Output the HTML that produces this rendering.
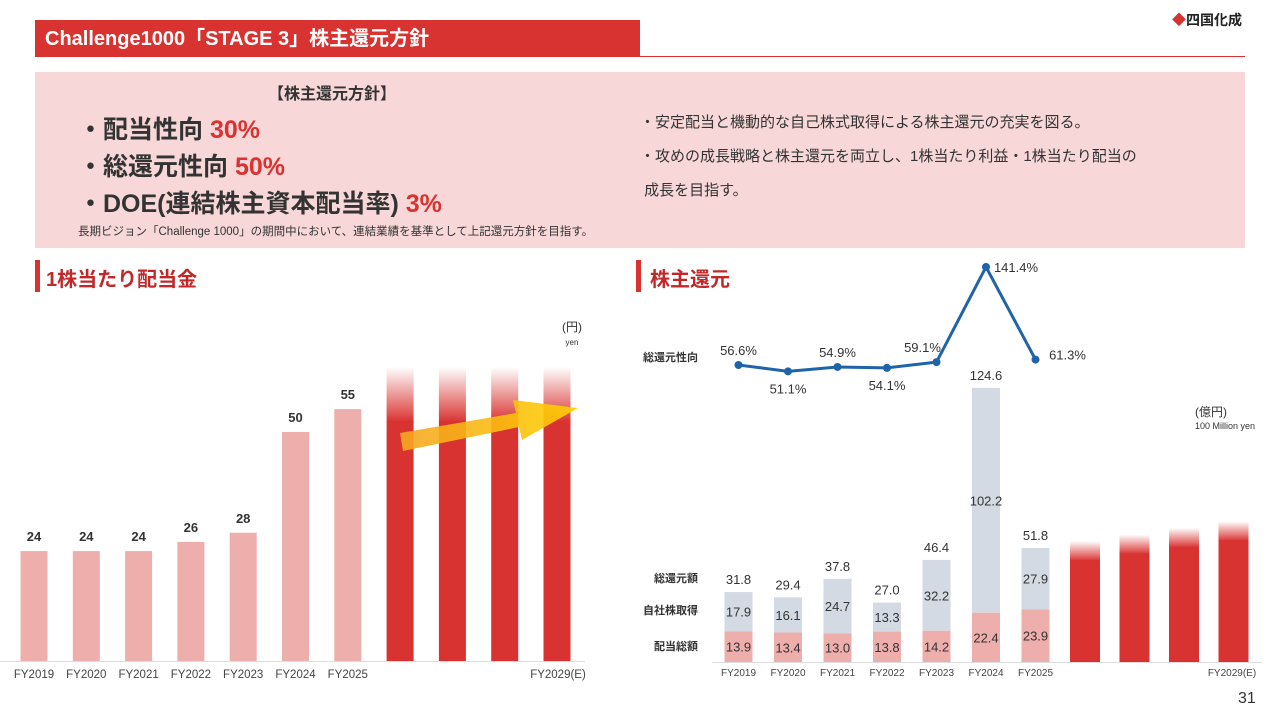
<!DOCTYPE html>
<html><head><meta charset="utf-8">
<style>
body{margin:0;width:1280px;height:720px;background:#fff;font-family:"Liberation Sans","Noto Sans CJK JP",sans-serif;position:relative;overflow:hidden}
.abs{position:absolute}
</style></head>
<body>
<div class="abs" style="left:35px;top:20px;width:605px;height:37px;background:#d93331;color:#fff;font-size:20px;font-weight:bold;line-height:38px;padding-left:10px;box-sizing:border-box">Challenge1000「STAGE 3」株主還元方針</div>
<div class="abs" style="left:640px;top:56px;width:605px;height:1px;background:#d93331"></div>
<div class="abs" style="left:1172px;top:10px;font-size:14px;font-weight:bold;color:#222"><span style="color:#d93331">◆</span>四国化成</div>
<div class="abs" style="left:35px;top:72px;width:1210px;height:176px;background:#f7d7d7"></div>
<div class="abs" style="left:268px;top:80px;font-size:16px;font-weight:bold;color:#333">【株主還元方針】</div>
<div class="abs" style="left:78px;top:112px;font-size:25px;font-weight:bold;color:#333;line-height:37px">
<div>・配当性向 <span style="color:#d93331">30%</span></div>
<div>・総還元性向 <span style="color:#d93331">50%</span></div>
<div>・DOE(連結株主資本配当率) <span style="color:#d93331">3%</span></div></div>
<div class="abs" style="left:78px;top:223px;font-size:11.5px;color:#333">長期ビジョン「Challenge 1000」の期間中において、連結業績を基準として上記還元方針を目指す。</div>
<div class="abs" style="left:640px;top:106px;font-size:15px;color:#333;line-height:34px">
<div>・安定配当と機動的な自己株式取得による株主還元の充実を図る。</div>
<div>・攻めの成長戦略と株主還元を両立し、1株当たり利益・1株当たり配当の</div>
<div>&nbsp;成長を目指す。</div></div>
<div class="abs" style="left:35px;top:260px;width:5px;height:32px;background:#d93331"></div>
<div class="abs" style="left:46px;top:263px;font-size:20px;font-weight:bold;color:#c0282a">1株当たり配当金</div>
<div class="abs" style="left:636px;top:260px;width:5px;height:32px;background:#d93331"></div>
<div class="abs" style="left:650px;top:263px;font-size:20px;font-weight:bold;color:#c0282a">株主還元</div>
<div class="abs" style="left:1238px;top:690px;font-size:16px;color:#333">31</div>

<svg id="c" class="abs" style="left:0;top:0" width="1280" height="720">
<defs>
<linearGradient id="fade" x1="0" y1="0" x2="0" y2="1"><stop offset="0" stop-color="#d93331" stop-opacity="0"/><stop offset="1" stop-color="#d93331"/></linearGradient>
<linearGradient id="arrowg" x1="0" y1="0" x2="1" y2="0"><stop offset="0" stop-color="#f5a623"/><stop offset="1" stop-color="#ffd000"/></linearGradient>
</defs>
</svg>
<script>
const dpsCats=['FY2019','FY2020','FY2021','FY2022','FY2023','FY2024','FY2025','','','','FY2029(E)'];
const dpsValues=[24,24,24,26,28,50,55];
const dpsFutureCount=4;
const srCats=['FY2019','FY2020','FY2021','FY2022','FY2023','FY2024','FY2025','','','','FY2029(E)'];
const srDividend=[13.9,13.4,13.0,13.8,14.2,22.4,23.9];
const srBuyback=[17.9,16.1,24.7,13.3,32.2,102.2,27.9];
const srTotal=[31.8,29.4,37.8,27.0,46.4,124.6,51.8];
const srRatio=[56.6,51.1,54.9,54.1,59.1,141.4,61.3];
const srFuture=[55,58,61,64];

const NS='http://www.w3.org/2000/svg';
const svg=document.getElementById('c');
function mk(t,a,txt){const e=document.createElementNS(NS,t);for(const k in a)e.setAttribute(k,a[k]);if(txt!==undefined)e.textContent=txt;svg.appendChild(e);return e;}
const F='"Liberation Sans","Noto Sans CJK JP",sans-serif';

// Left chart
const lx=i=>34+i*52.3, ly=v=>661-v*4.58;
dpsValues.forEach((v,i)=>{
 let r=mk('rect',{x:lx(i)-13.5,y:ly(v),width:27,height:661-ly(v),fill:'#eeaeac'});
 
 let t=mk('text',{x:lx(i),y:ly(v)-10,'text-anchor':'middle','font-size':13,'font-weight':'bold',fill:'#333','font-family':F},String(v));
 
});
for(let k=0;k<dpsFutureCount;k++){
 const i=dpsValues.length+k, top=367;
 let g=mk('rect',{x:lx(i)-13.5,y:top,width:27,height:55,fill:'url(#fade)'});
 
 let r=mk('rect',{x:lx(i)-13.5,y:top+54,width:27,height:661-top-54,fill:'#d93331'});
 
}
let ar=mk('polygon',{points:'400,433 516,413 513,400 578,408 522,440 519,427 403,451',fill:'url(#arrowg)',opacity:0.9});

let la=mk('line',{x1:0,y1:661.5,x2:585,y2:661.5,stroke:'#ddd'});
dpsCats.forEach((c,i)=>{if(!c)return;let t=mk('text',{x:i==10?lx(i)+1:lx(i),y:678,'text-anchor':'middle','font-size':11.5,fill:'#444','font-family':F},c);});
let u1=mk('text',{x:572,y:331,'text-anchor':'middle','font-size':12,fill:'#333','font-family':F},'(円)');
let u2=mk('text',{x:572,y:345,'text-anchor':'middle','font-size':8,fill:'#333','font-family':F},'yen');

// Right chart
const rx=i=>i<7?738.5+i*49.5:1085+(i-7)*49.5, ry=v=>662-v*2.2;
srTotal.forEach((tot,i)=>{
 const d=srDividend[i], b=srBuyback[i];
 let r1=mk('rect',{x:rx(i)-14,y:ry(tot),width:28,height:ry(d)-ry(tot),fill:'#d4dae3'});
 
 let r2=mk('rect',{x:rx(i)-14,y:ry(d),width:28,height:662-ry(d),fill:'#eeaeac'});
 
 let t1=mk('text',{x:rx(i),y:ry(tot)-8,'text-anchor':'middle','font-size':13,fill:'#333','font-family':F},tot.toFixed(1));
 
 let t2=mk('text',{x:rx(i),y:(ry(tot)+ry(d))/2+5,'text-anchor':'middle','font-size':13,fill:'#333','font-family':F},b.toFixed(1));
 
 let t3=mk('text',{x:rx(i),y:(ry(d)+662)/2+5,'text-anchor':'middle','font-size':13,fill:'#333','font-family':F},d.toFixed(1));
 
});
srFuture.forEach((v,k)=>{
 const i=7+k, top=ry(v);
 let g=mk('rect',{x:rx(i)-15,y:top,width:30,height:20,fill:'url(#fade)'});
 let r=mk('rect',{x:rx(i)-15,y:top+19,width:30,height:662-top-19,fill:'#d93331'});
});
let lb=mk('line',{x1:712,y1:662.5,x2:1262,y2:662.5,stroke:'#ddd'});
srCats.forEach((c,i)=>{if(!c)return;let t=mk('text',{x:i==10?1232:rx(i),y:676,'text-anchor':'middle','font-size':10,fill:'#444','font-family':F},c);});
[['総還元額',582],['自社株取得',614],['配当総額',650]].forEach(([s,y])=>{let t=mk('text',{x:698,y:y,'text-anchor':'end','font-size':11,'font-weight':'bold',fill:'#333','font-family':F},s);});
let rl=mk('text',{x:698,y:361,'text-anchor':'end','font-size':11,'font-weight':'bold',fill:'#333','font-family':F},'総還元性向');
const py=v=>365-(v-56.6)*1.156;
let pl=mk('polyline',{points:srRatio.map((v,i)=>rx(i)+','+py(v)).join(' '),fill:'none',stroke:'#1f64a8','stroke-width':3});

const off=[[0,-10],[0,22],[0,-10],[0,22],[-14,-10],[30,5],[32,0]];
srRatio.forEach((v,i)=>{
 let c=mk('circle',{cx:rx(i),cy:py(v),r:4,fill:'#1f64a8'});
 let t=mk('text',{x:rx(i)+off[i][0],y:py(v)+off[i][1],'text-anchor':'middle','font-size':13,fill:'#333','font-family':F},v.toFixed(1)+'%');
 
});
let u3=mk('text',{x:1195,y:416,'font-size':12,fill:'#333','font-family':F},'(億円)');
let u4=mk('text',{x:1195,y:429,'font-size':9,fill:'#333','font-family':F},'100 Million yen');
</script>
</body></html>
